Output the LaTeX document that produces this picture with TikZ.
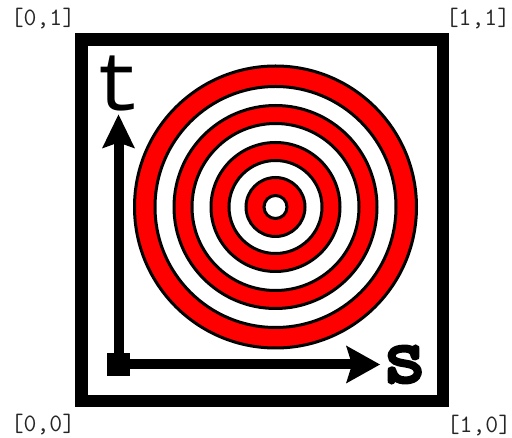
\documentclass[tikz,border=0pt]{standalone}
\usepackage{fontspec}
\newfontfamily\labmono{Liberation Mono}
\newfontfamily\sbold{Latin Modern Mono}[FakeBold=4]
\begin{document}
\begin{tikzpicture}[x=1pt,y=-1pt,
  corner/.style={font=\ttfamily\fontsize{25}{25}\selectfont, text=black!85, inner sep=0pt},
  tlabel/.style={font=\labmono\fontsize{82}{82}\selectfont, inner sep=0pt},
  slabel/.style={font=\sbold\fontsize{82}{82}\selectfont, inner sep=0pt},
  ring/.style={draw=black, line width=3pt},
  axisline/.style={line width=10pt},
  framebox/.style={draw=black, line width=12.5pt, minimum size=361.5pt, inner sep=0pt}]
\useasboundingbox (0,0) rectangle (512,438);
\fill[white] (0,0) rectangle (512,438);
% frame
\node[framebox] (frame) at (262,220.25) {};
% target
\coordinate (target) at (275.5,207);
\foreach \r/\c in {141/red,120.5/white,101.5/red,83.5/white,64.5/red,46.5/white,29.5/red,11.5/white}
  \filldraw[ring, fill=\c] (target) circle (\r);
% axes
\node[fill=black, minimum size=22.5pt, inner sep=0pt] (o) at (118.5,364.5) {};
\coordinate (ttip) at (118.5,114.5);
\coordinate (stip) at (380,364.5);
\draw[axisline, shorten >=26pt] (o.center) -- (ttip);
\draw[axisline, shorten >=26pt] (o.center) -- (stip);
\fill (ttip) -- ++(-16.5,34) -- ++(16.5,-6) -- ++(16.5,6) -- cycle;
\fill (stip) -- ++(-34,-19) -- ++(6,19) -- ++(-6,19) -- cycle;
\node[tlabel] (t) at (118.5,83.5) {t};
\node[slabel] (s) at (404.5,364.5) {s};
% corner labels
\node[corner] (c01) at (43,19) {[0,1]};
\node[corner] (c11) at (478,19) {[1,1]};
\node[corner] (c00) at (43,425) {[0,0]};
\node[corner] (c10) at (479,426) {[1,0]};
\end{tikzpicture}
\end{document}
